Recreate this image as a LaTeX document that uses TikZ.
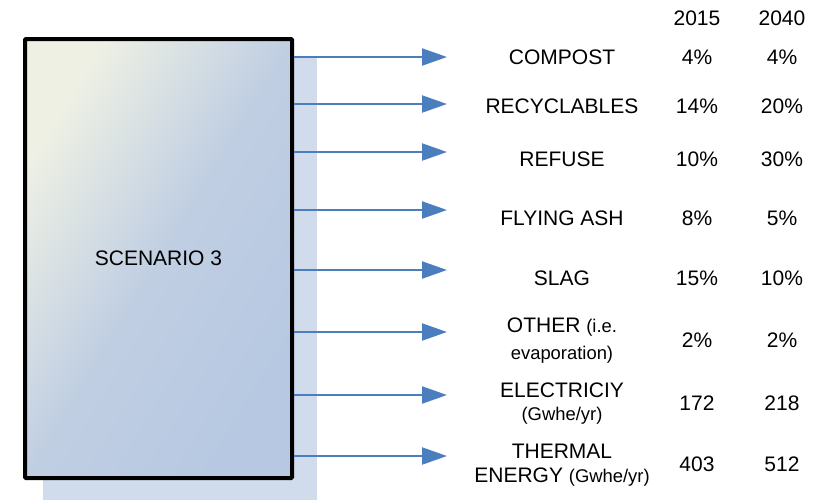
\documentclass[tikz,border=0pt]{standalone}
\usepackage{fontspec}
\setmainfont{Liberation Sans}
\usetikzlibrary{arrows.meta, positioning}
\definecolor{flowblue}{RGB}{74,126,191}
\definecolor{shadowblue}{RGB}{208,219,236}
\definecolor{boxlight}{RGB}{238,240,228}
\definecolor{boxblue}{RGB}{183,200,226}
\tikzset{
  scenbox/.style={draw=black, line width=2pt, rounded corners=0.5pt,
    minimum width=133.5pt, minimum height=219.5pt,
    font=\fontsize{10.5}{12}\selectfont},
  boxshade/.style={top color=boxlight, bottom color=boxblue,
    middle color=boxblue!84!boxlight, shading angle=45},
  flow/.style={draw=flowblue, line width=1.1pt, -{Triangle[length=12.5pt, width=8.5pt]}},
  lbl/.style={anchor=base, inner sep=0pt, font=\fontsize{10.5}{12}\selectfont},
}
\newcommand{\smtxt}[1]{{\fontsize{9.2}{11}\selectfont #1}}

\begin{document}
\begin{tikzpicture}[x=0.5pt, y=-0.5pt]
\useasboundingbox (0,0) rectangle (821,500);
% Shadow behind the scenario box
\fill[shadowblue] (43,58) rectangle (317,500);
% Diagonal gradient (square shading stretched to the box)
\begin{scope}[transform canvas={shift={(25,39)}, xscale=0.6082}]
  \shade[boxshade] (0,0) rectangle (439,439);
\end{scope}
% Scenario box
\node[scenbox] (scen) at (158.5,258.5) {SCENARIO 3};
% Output arrows
\foreach \y/\nm in {57/cmp, 104/rec, 152/ref, 210/ash, 270/slg, 332/oth, 395/ele, 456/thm} {
  \coordinate (tip\nm) at (447,\y);
  \draw[flow] (scen.east |- tip\nm) -- (tip\nm);
}
% Year headers
\node[lbl] (yrA) at (697,25) {2015};
\node[lbl] (yrB) at (782,25) {2040};
% Single-line rows
\foreach \y/\nm/\txt/\va/\vb in {64/cmp/COMPOST/4\%/4\%, 113/rec/RECYCLABLES/14\%/20\%,
    166/ref/REFUSE/10\%/30\%, 225/ash/FLYING ASH/8\%/5\%, 285/slg/SLAG/15\%/10\%} {
  \node[lbl] (lbl\nm) at (562,\y) {\txt};
  \node[lbl] (va\nm) at (697,\y) {\va};
  \node[lbl] (vb\nm) at (782,\y) {\vb};
}
% Two-line rows
\node[lbl] (lbloth) at (562,332) {OTHER \smtxt{(i.e.}};
\node[lbl] (lbloth2) at (562,359) {\smtxt{evaporation)}};
\node[lbl] (vaoth) at (697,347) {2\%};
\node[lbl] (vboth) at (782,347) {2\%};
\node[lbl] (lblele) at (562,397) {ELECTRICIY};
\node[lbl] (lblele2) at (562,420) {\smtxt{(Gwhe/yr)}};
\node[lbl] (vaele) at (697,410) {172};
\node[lbl] (vbele) at (782,410) {218};
\node[lbl] (lblthm) at (562,458) {THERMAL};
\node[lbl] (lblthm2) at (562,482) {ENERGY \smtxt{(Gwhe/yr)}};
\node[lbl] (vathm) at (697,471) {403};
\node[lbl] (vbthm) at (782,471) {512};
\end{tikzpicture}
\end{document}
